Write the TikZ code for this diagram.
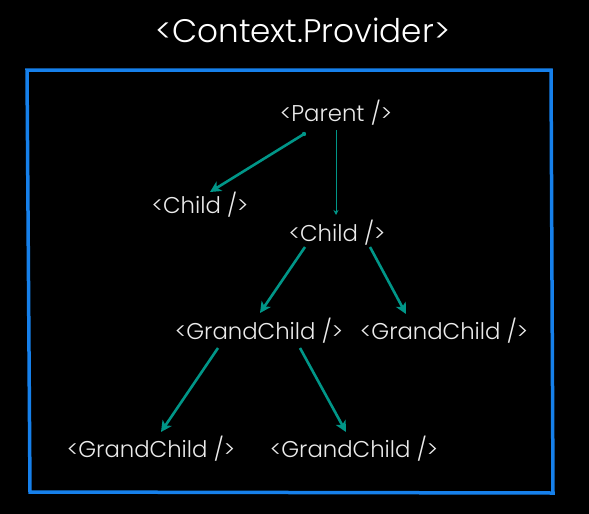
\documentclass[tikz,border=0pt]{standalone}
\usepackage{fontspec}
\setmainfont{Poppins Light}
\usetikzlibrary{arrows.meta}
\definecolor{provblue}{RGB}{22,128,235}
\definecolor{arrteal}{RGB}{0,150,136}
\definecolor{txtwhite}{RGB}{235,235,235}
\tikzset{
  lbl/.style={text=txtwhite, font=\fontsize{22.8}{26}\selectfont, inner sep=0pt},
  ttl/.style={text=white, font=\fontsize{32.6}{36}\selectfont, inner sep=0pt},
  arr/.style={draw=arrteal, line width=2.6pt, -{Stealth[length=11pt,width=11pt,inset=3pt]}},
  thinarr/.style={draw=arrteal, line width=1pt, -{Stealth[length=5pt,width=5pt]}},
}
\begin{document}
\begin{tikzpicture}[x=1pt,y=-1pt]
\fill[black] (0,0) rectangle (589,514);
\useasboundingbox (0,0) rectangle (589,514);
\node[ttl] (title) at (303,30) {<Context.Provider>};
\draw[provblue, line width=3.5pt] (27,70) -- (551,70) -- (553,493) -- (30,492) -- cycle;
\node[lbl] (parent) at (336,113) {<Parent />};
\node[lbl] (childa) at (200,205) {<Child />};
\node[lbl] (childb) at (337,233) {<Child />};
\node[lbl] (gca) at (259,331) {<GrandChild />};
\node[lbl] (gcb) at (444,331) {<GrandChild />};
\node[lbl] (gcc) at (151,449) {<GrandChild />};
\node[lbl] (gcd) at (354,449) {<GrandChild />};
\fill[arrteal] ([shift={(-32,21)}]parent.center) circle (2.2pt);
\draw[arr] ([shift={(-32,21)}]parent.center) -- ([shift={(10,-13)}]childa.center);
\draw[thinarr] ([shift={(0,17)}]parent.center) -- ([shift={(-1,-18)}]childb.center);
\draw[arr] ([shift={(-32,14)}]childb.center) -- ([shift={(1,-18)}]gca.center);
\draw[arr] ([shift={(33,14)}]childb.center) -- ([shift={(-38,-17)}]gcb.center);
\draw[arr] ([shift={(-41,17)}]gca.center) -- ([shift={(10,-17)}]gcc.center);
\draw[arr] ([shift={(41,17)}]gca.center) -- ([shift={(-8,-17)}]gcd.center);
\end{tikzpicture}
\end{document}
